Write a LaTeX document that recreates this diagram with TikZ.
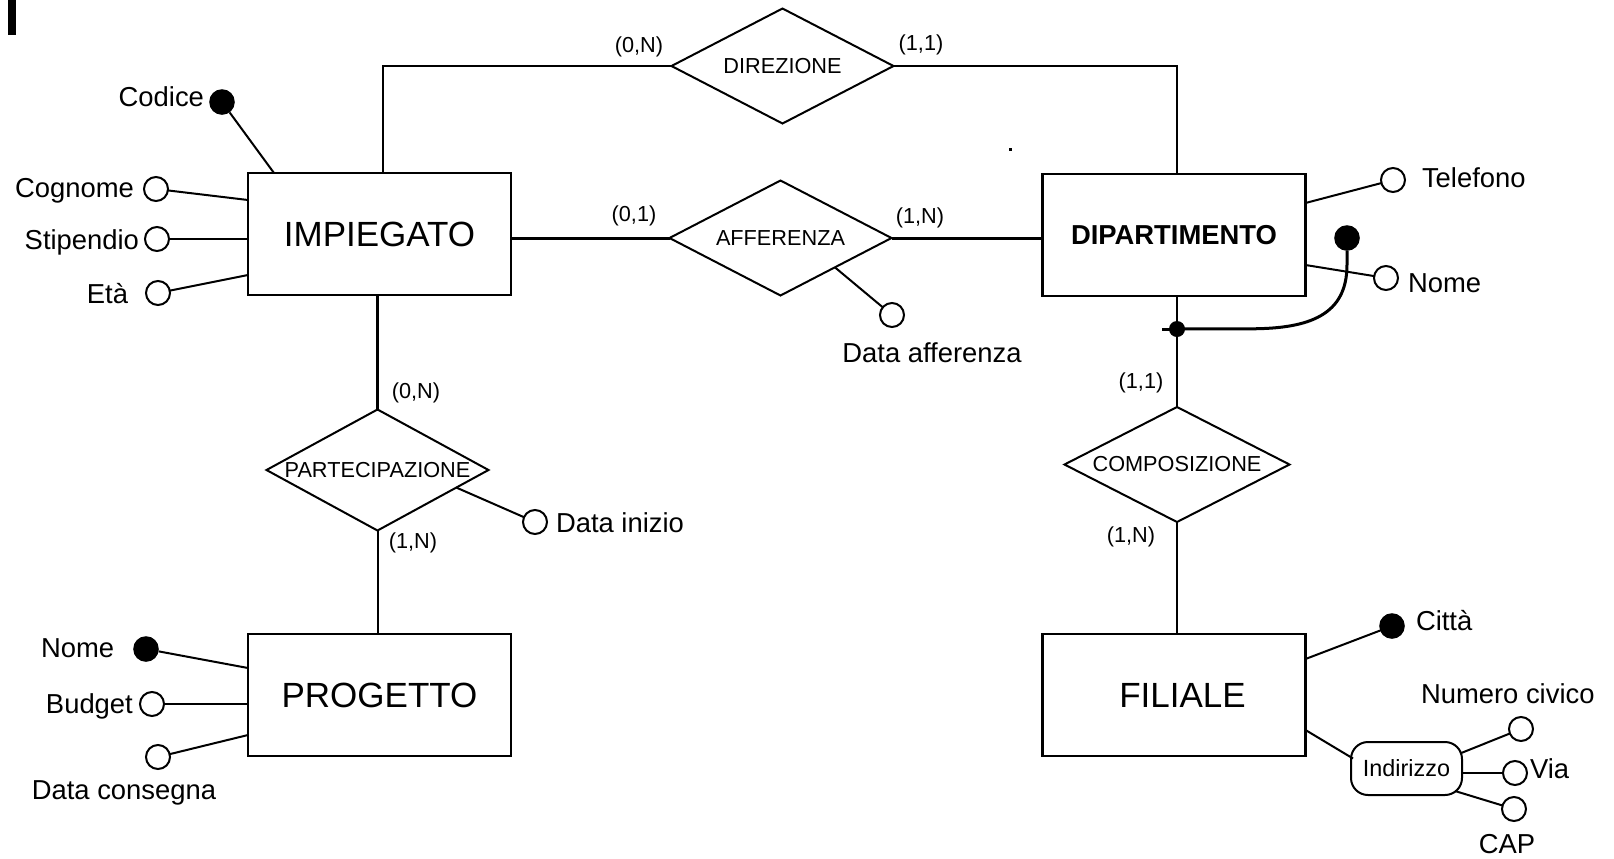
\documentclass[tikz,border=0pt]{standalone}
\usepackage{fontspec}
\setmainfont{Liberation Sans}
\usetikzlibrary{shapes.geometric,calc}
\begin{document}
\begin{tikzpicture}[x=0.5pt,y=-0.5pt,
  every node/.style={inner sep=0pt, outer sep=0pt},
  entity/.style={draw, rectangle, line width=1.35pt, minimum width=131.5pt, minimum height=61pt, font=\fontsize{17.5}{20}\selectfont},
  rel/.style={draw, diamond, line width=1pt, inner xsep=-20pt, minimum width=111pt, minimum height=57.5pt, font=\fontsize{10.85}{13}\selectfont},
  card/.style={font=\fontsize{10.85}{13}\selectfont},
  attr/.style={draw, circle, line width=1pt, minimum size=12pt},
  keyattr/.style={circle, fill=black, minimum size=12.8pt},
  atext/.style={font=\fontsize{13.7}{16}\selectfont},
  comp attr/.style={draw, rectangle, rounded corners=8.5pt, line width=1pt, minimum width=55.5pt, minimum height=26.5pt, font=\fontsize{11.7}{14}\selectfont},
  conn/.style={line width=1pt},
  thickconn/.style={line width=1.5pt},
  jdot/.style={circle, fill=black, minimum size=8pt},
]
\useasboundingbox (0,0) rectangle (1614,858);

% marks
\fill (8,0) rectangle (16,35);
\fill (1008.5,147.5) rectangle (1011.5,150.5);

% entities
\node[entity] (imp) at (379.5,234) {IMPIEGATO};
\node[entity, font=\fontsize{13.7}{16}\selectfont\bfseries] (dip) at (1174,235) {DIPARTIMENTO};
\node[entity] (prog) at (379.5,695) {PROGETTO};
\node[entity] (fil) at (1174,695) {\hspace*{8.5pt}FILIALE};

% relationships
\node[rel] (dir) at (782.5,66) {DIREZIONE};
\node[rel] (aff) at (780.5,238) {AFFERENZA};
\node[rel] (part) at (377.5,470) {PARTECIPAZIONE};
\node[rel, minimum width=112.5pt] (comp) at (1177,464.5) {COMPOSIZIONE};

% cardinalities
\node[card] (c1) at (639,47) {(0,N)};
\node[card] (c2) at (921,45) {(1,1)};
\node[card] (c3) at (634,216) {(0,1)};
\node[card] (c4) at (920,218) {(1,N)};
\node[card] (c5) at (416,393) {(0,N)};
\node[card] (c6) at (413,543) {(1,N)};
\node[card] (c7) at (1141,383) {(1,1)};
\node[card] (c8) at (1131,537) {(1,N)};

% relationship connectors
\draw[conn] ($(imp.north)+(3,0)$) |- (dir.west);
\draw[conn] (dir.east) -| ($(dip.north)+(3,0)$);
\draw[thickconn] (aff.west -| imp.east) -- (aff.west);
\draw[thickconn] (aff.east) -- (aff.east -| dip.west);
\draw[thickconn] (part.north |- imp.south) -- (part.north);
\draw[conn] (part.south) -- (part.south |- prog.north);
\draw[conn] (comp.north |- dip.south) -- (comp.north);
\draw[conn] (comp.south) -- (comp.south |- fil.north);

% IMPIEGATO attributes
\node[keyattr] (cod) at (222,102) {};
\node[attr] (cog) at (156,189) {};
\node[attr] (sti) at (157,239) {};
\node[attr] (eta) at (158,293) {};
\node[atext, anchor=base east] (tcod) at (204,106) {Codice};
\node[atext, anchor=base east] (tcog) at (134,197) {Cognome};
\node[atext, anchor=base east] (tsti) at (139,249) {Stipendio};
\node[atext, anchor=base east] (teta) at (128,303) {Età};
\draw[conn] (cod) -- ($(imp.north west)+(26,0)$);
\draw[conn] (cog) -- ($(imp.north west)+(0,27)$);
\draw[conn] (sti) -- (sti -| imp.west);
\draw[conn] (eta) -- ($(imp.north west)+(0,102)$);

% DIPARTIMENTO attributes
\node[attr] (tel) at (1393,180) {};
\node[attr] (nomed) at (1386,278) {};
\node[keyattr] (dipkey) at (1347,238) {};
\node[atext, anchor=base west] (ttel) at (1422,187) {Telefono};
\node[atext, anchor=base west] (tnomed) at (1408,292) {Nome};
\draw[conn] ($(dip.north east)+(0,29)$) -- (tel);
\draw[conn] ($(dip.north east)+(0,91)$) -- (nomed);
\node[jdot] (jd) at (1177,329) {};
\draw[line width=1.5pt] (dipkey.south) -- ++(0,14) .. controls +(0,50) and +(60,0) .. ++(-97,64) -- (jd.center);
\draw[line width=1.5pt] (jd.center) -- ++(-15,0);

% AFFERENZA attribute
\node[attr] (daff) at (892,315) {};
\node[atext, anchor=base] (tdaff) at (932,362) {Data afferenza};
\draw[conn] ($(aff.south)!0.49!(aff.east)$) -- (daff);

% PARTECIPAZIONE attribute
\node[attr] (dini) at (535,522) {};
\node[atext, anchor=base west] (tdini) at (556,532) {Data inizio};
\draw[conn] ($(part.south)!0.71!(part.east)$) -- (dini);

% PROGETTO attributes
\node[keyattr] (nomep) at (146,649) {};
\node[attr] (bud) at (152,704) {};
\node[attr] (dcon) at (158,757) {};
\node[atext, anchor=base west] (tnomep) at (41,657) {Nome};
\node[atext, anchor=base west] (tbud) at (46,713) {Budget};
\node[atext, anchor=base] (tdcon) at (124,799) {Data consegna};
\draw[conn] (nomep) -- ($(prog.north west)+(0,34)$);
\draw[conn] (bud) -- (bud -| prog.west);
\draw[conn] (dcon) -- ($(prog.north west)+(0,101)$);

% FILIALE attributes
\node[keyattr] (citta) at (1392,626) {};
\node[atext, anchor=base west] (tcitta) at (1416,630) {Città};
\draw[conn] ($(fil.north east)+(0,25)$) -- (citta);
\node[comp attr] (ind) at (1406.5,768.5) {Indirizzo};
\draw[conn] ($(fil.north east)+(0,96)$) -- ($(ind.west)+(2,-10)$);
\node[attr] (numc) at (1521,729) {};
\node[attr] (via) at (1515,773) {};
\node[attr] (cap) at (1514,809) {};
\node[atext, anchor=base west] (tnumc) at (1421,703) {Numero civico};
\node[atext, anchor=base west] (tvia) at (1530,778) {Via};
\node[atext, anchor=base] (tcap) at (1507,853) {CAP};
\draw[conn] ($(ind.east)+(-2,-15)$) -- (numc);
\draw[conn] (via -| ind.east) -- (via);
\draw[conn] ($(ind.south east)+(-7,-4)$) -- (cap);
\end{tikzpicture}
\end{document}
